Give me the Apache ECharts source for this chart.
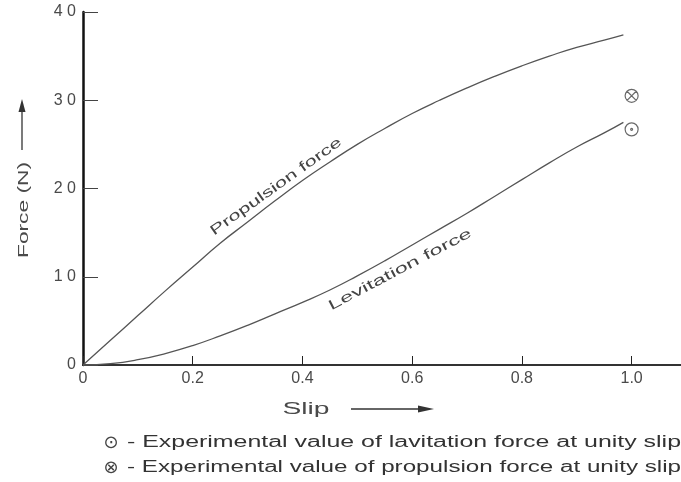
<!DOCTYPE html>
<html>
<head>
<meta charset="utf-8">
<script src="https://cdn.jsdelivr.net/npm/echarts@6/dist/echarts.min.js"></script>
<style>html,body{margin:0;padding:0;background:#fff;}#c{width:681px;height:482px;}</style>
</head>
<body>
<div id="c"></div>
<script>
// ---- data ----
const slip = [0, 0.05, 0.1, 0.15, 0.2, 0.25, 0.3, 0.35, 0.4, 0.45, 0.5, 0.55, 0.6, 0.65, 0.7, 0.75, 0.8, 0.85, 0.9, 0.95, 0.985];
const propulsion = [0, 2.8, 5.6, 8.4, 11.1, 13.8, 16.2, 18.6, 20.9, 23.0, 25.0, 26.8, 28.5, 30.0, 31.4, 32.7, 33.9, 35.0, 36.0, 36.8, 37.4];
const levitation = [0, 0.15, 0.6, 1.3, 2.2, 3.3, 4.5, 5.8, 7.1, 8.5, 10.1, 11.8, 13.6, 15.4, 17.2, 19.1, 21.0, 22.9, 24.7, 26.3, 27.5];
const expLevitation = [[1.0, 26.7]];
const expPropulsion = [[1.0, 30.5]];
const xTickValues = [0, 0.2, 0.4, 0.6, 0.8, 1.0];
const xTickLabels = ['0', '0.2', '0.4', '0.6', '0.8', '1.0'];
const yTickValues = [0, 10, 20, 30, 40];
const yTickLabels = ['0', '1 0', '2 0', '3 0', '4 0'];
const curveLabels = [
  { text: 'Propulsion force', at: [0.352, 20.2], angle: 35.5, width: 158 },
  { text: 'Levitation force', at: [0.578, 10.8], angle: 27.8, width: 160 }
];
const legendLines = [
  { sym: '⊙', text: '- Experimental value of lavitation force at unity slip' },
  { sym: '⊗', text: '- Experimental value of propulsion force at unity slip' }
];

const FONT = 'Liberation Sans';
const TXT = '#4a4a4a';
const LINE = '#555';

const pair = (xs, ys) => xs.map((x, i) => [x, ys[i]]);

const dotCircle = 'path://M0,-6A6,6 0 1,1 0,6A6,6 0 1,1 0,-6Z M0,-0.9A0.9,0.9 0 1,1 0,0.9A0.9,0.9 0 1,1 0,-0.9Z';
const crossCircle = 'path://M0,-6A6,6 0 1,1 0,6A6,6 0 1,1 0,-6Z M-4.2,-4.2L4.2,4.2 M-4.2,4.2L4.2,-4.2';

const chart = echarts.init(document.getElementById('c'), null, { renderer: 'canvas' });

const option = {
  animation: false,
  backgroundColor: '#fff',
  grid: { left: 83, top: 12, right: 0, bottom: 117 },
  xAxis: [{
    type: 'value', min: 0, max: 1.09,
    axisLine: { show: true, onZero: false, lineStyle: { color: '#111', width: 2 } },
    axisTick: { show: true, inside: true, length: 9, customValues: xTickValues, lineStyle: { color: '#222', width: 1 } },
    axisLabel: {
      customValues: xTickValues, margin: 6,
      formatter: v => { const i = xTickValues.findIndex(t => Math.abs(t - v) < 1e-6); return i >= 0 ? xTickLabels[i] : ''; },
      color: TXT, fontFamily: FONT, fontSize: 16
    },
    splitLine: { show: false }
  }, {
    type: 'value', position: 'top', min: 0, max: 1.09,
    axisLine: { show: true, lineStyle: { color: '#333', width: 2 } },
    axisTick: { show: false }, axisLabel: { show: false }, splitLine: { show: false }
  }],
  yAxis: {
    type: 'value', min: 0, max: 40, interval: 10,
    axisLine: { show: true, lineStyle: { color: '#111', width: 2.5 } },
    axisTick: { show: true, inside: true, length: 15, lineStyle: { color: '#444', width: 1 } },
    axisLabel: {
      margin: 7,
      formatter: v => { const i = yTickValues.indexOf(v); return i >= 0 ? yTickLabels[i] : ''; },
      color: TXT, fontFamily: FONT, fontSize: 16
    },
    splitLine: { show: false }
  },
  series: [
    { name: 'Propulsion force', type: 'line', data: pair(slip, propulsion), smooth: 0.5, symbol: 'none',
      lineStyle: { color: LINE, width: 1.3 } },
    { name: 'Levitation force', type: 'line', data: pair(slip, levitation), smooth: 0.5, symbol: 'none',
      lineStyle: { color: LINE, width: 1.3 } },
    { name: 'Experimental levitation force', type: 'scatter', data: expLevitation, symbol: dotCircle, symbolSize: 13,
      itemStyle: { color: 'none', borderColor: '#444', borderWidth: 1.2 } },
    { name: 'Experimental propulsion force', type: 'scatter', data: expPropulsion, symbol: crossCircle, symbolSize: 13,
      itemStyle: { color: 'none', borderColor: '#444', borderWidth: 1.2 } }
  ]
};
chart.setOption(option);

// measure text widths to stretch letter-spaced scan text
const cv = document.createElement('canvas').getContext('2d');
function measure(t, size) { cv.font = size + 'px "' + FONT + '"'; return cv.measureText(t).width; }

const g = [];
curveLabels.forEach(l => {
  const p = chart.convertToPixel({ gridIndex: 0 }, l.at);
  const fs = 14;
  g.push({
    type: 'text', x: p[0], y: p[1], rotation: l.angle * Math.PI / 180,
    scaleX: l.width / measure(l.text, fs),
    style: { text: l.text, font: fs + 'px "' + FONT + '"', fill: '#444', align: 'center', verticalAlign: 'middle' }
  });
});
// axis names
g.push({ type: 'text', x: 24, y: 210, rotation: Math.PI / 2,
  scaleX: 96 / measure('Force (N)', 15),
  style: { text: 'Force (N)', font: '15px "' + FONT + '"', fill: TXT, align: 'center', verticalAlign: 'middle' } });
g.push({ type: 'line', shape: { x1: 22, y1: 150, x2: 22, y2: 110 }, style: { stroke: '#333', lineWidth: 1.3 } });
g.push({ type: 'polygon', shape: { points: [[22, 99], [18.5, 112], [25.5, 112]] }, style: { fill: '#333' } });
g.push({ type: 'text', x: 306, y: 410,
  scaleX: 47 / measure('Slip', 16),
  style: { text: 'Slip', font: '16px "' + FONT + '"', fill: TXT, align: 'center', verticalAlign: 'middle' } });
g.push({ type: 'line', shape: { x1: 351, y1: 409, x2: 420, y2: 409 }, style: { stroke: '#333', lineWidth: 1.3 } });
g.push({ type: 'polygon', shape: { points: [[434, 409], [418, 405.5], [418, 412.5]] }, style: { fill: '#333' } });
// legend lines
legendLines.forEach((l, i) => {
  const y = 443 + i * 25;
  g.push({ type: 'text', x: 111, y: y, style: { text: l.sym, font: '18px "DejaVu Sans"', fill: '#444', align: 'center', verticalAlign: 'middle' } });
  g.push({ type: 'text', x: 127, y: y, scaleX: 554 / measure(l.text, 16),
    style: { text: l.text, font: '16px "' + FONT + '"', fill: '#333', align: 'left', verticalAlign: 'middle' } });
});
chart.setOption({ graphic: { elements: g } });
</script>
</body>
</html>
